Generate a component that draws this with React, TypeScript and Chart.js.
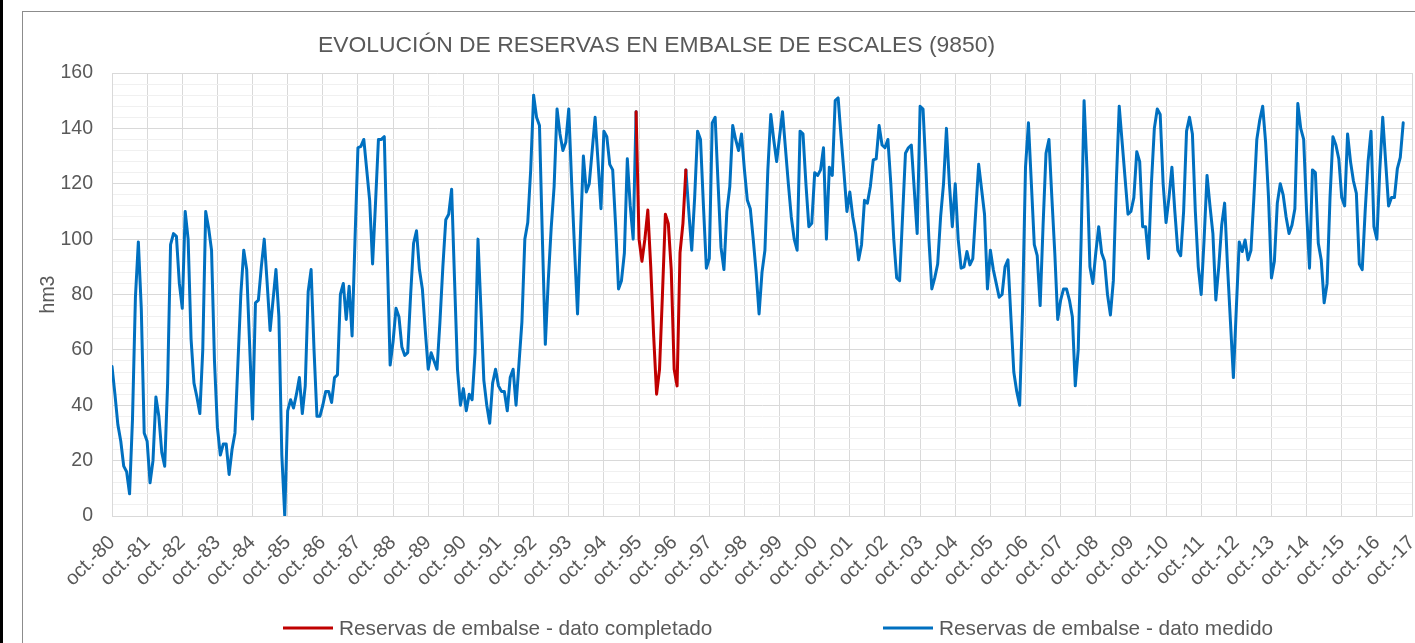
import React, { useEffect, useRef } from "react";
import { Chart, registerables } from "chart.js";

Chart.register(...registerables);

const TITLE = "EVOLUCIÓN DE RESERVAS EN EMBALSE DE ESCALES (9850)";
const Y_TITLE = "hm3";
const LABEL_COMPLETADO = "Reservas de embalse - dato completado";
const LABEL_MEDIDO = "Reservas de embalse - dato medido";

// Tick labels (one per October, every 12 months)
const yearLabels = [
  "oct.-80", "oct.-81", "oct.-82", "oct.-83", "oct.-84", "oct.-85", "oct.-86", "oct.-87",
  "oct.-88", "oct.-89", "oct.-90", "oct.-91", "oct.-92", "oct.-93", "oct.-94", "oct.-95",
  "oct.-96", "oct.-97", "oct.-98", "oct.-99", "oct.-00", "oct.-01", "oct.-02", "oct.-03",
  "oct.-04", "oct.-05", "oct.-06", "oct.-07", "oct.-08", "oct.-09", "oct.-10", "oct.-11",
  "oct.-12", "oct.-13", "oct.-14", "oct.-15", "oct.-16", "oct.-17",
];
const MONTHS_PER_LABEL = 12;
const AXIS_MONTHS = 444; // oct.-80 .. oct.-17

// Monthly reservoir storage (hm3), measured data, from oct.-80 (index 0)
const medido: (number | null)[] = [
  54, 44, 33, 27, 18, 16, 8, 35, 79, 99,
  75, 30, 27, 12, 20, 43, 36, 23, 18, 48,
  98, 102, 101, 84, 75, 110, 100, 64, 48, 43,
  37, 60, 110, 104, 96, 56, 32, 22, 26, 26,
  15, 24, 30, 55, 80, 96, 89, 62, 35, 77,
  78, 90, 100, 84, 67, 78, 89, 72, 22, 0,
  38, 42, 39, 44, 50, 37, 47, 81, 89, 60,
  36, 36, 40, 45, 45, 41, 50, 51, 80, 84,
  71, 83, 65, 100, 133, 133.5, 136, 125, 114, 91,
  113, 136, 136, 137, 95, 54.5, 63, 75, 72, 61,
  58, 59, 80, 98.5, 103, 89, 82, 67, 53, 59,
  56, 53, 70, 90, 107, 109, 118, 85, 53, 40,
  46, 38, 44, 42, 59, 100, 75, 49, 40, 33.5,
  48, 53, 47, 45, 45, 38, 50, 53, 40, 55,
  70, 100, 106, 125, 152, 144, 141, 100, 62, 85,
  104, 119, 147, 138, 132, 135, 147, 120, 96, 73,
  102, 130, 117, 120, 132, 144, 128, 111, 139, 137,
  127, 125, 105, 82, 85, 95, 129, 112, 100, 146,
  null, null, null, null, null, null, null, null, null, null,
  null, null, null, null, null, null, 125, 110, 96, 115,
  139, 136, 112, 89.5, 93, 142, 144, 120, 97, 89,
  110, 119, 141, 136, 132, 138, 125, 114, 111, 100,
  88, 73, 88, 96, 125, 145, 136, 128, 137, 146,
  133, 120, 108, 100, 96, 139, 138, 120, 104.5, 105.7,
  124, 123, 125, 133, 100, 126, 123, 150, 151, 137,
  124, 110, 117, 108, 102, 92.5, 98, 114, 113, 119,
  128.6, 129, 141, 134, 133, 136, 120, 100, 86, 85,
  108, 131, 133, 134, 118, 102, 148, 147, 125, 100,
  82, 86, 91, 108, 120, 140, 120, 104.5, 120, 100,
  89.5, 90, 95.5, 90.7, 93, 110, 127, 118, 109, 82,
  96, 89, 84, 79, 80, 90, 92.5, 72, 52, 45,
  40, 75, 126, 142, 120, 98, 94, 76, 105, 131,
  136, 115, 95, 71, 78, 82, 82, 78, 72, 47,
  60, 100, 150, 125, 90, 84, 95, 104.5, 95, 92,
  80, 72.6, 85, 120, 148, 135, 122, 109, 110, 115,
  131.6, 128, 104.5, 104.5, 93, 120, 140, 147, 145, 120,
  106, 115, 126, 110, 96, 94, 110, 139, 144, 138,
  110, 90, 80, 100, 123, 112, 102, 78, 90, 105,
  113, 90, 70, 50, 75, 99, 95.5, 99.7, 92.5, 96,
  115, 136, 143, 148, 135, 115, 86, 92, 113, 120,
  116, 108, 102, 105, 111, 149, 140, 136, 110, 89.5,
  125, 124, 98.5, 92.5, 77, 84, 115, 137, 134, 129,
  115, 112, 138, 128, 121, 116.5, 91, 89, 110, 128,
  139, 104.5, 100, 125, 144, 128, 112, 115, 115, 125.5,
  129.5, 142,
];

// Completed (filled-in) data, starting at month index 179
const completadoStart = 179;
const completado = [
  146, 100, 92, 100, 110.5, 90, 65, 44, 53, 80,
  109, 105.6, 89, 53, 47, 95, 105.7, 125,
];

const FONT = "'Liberation Sans', Arial, Helvetica, sans-serif";
const TEXT = "#595959";

const framePlugin = {
  id: "excelFrame",
  beforeDraw(chart: any) {
    const ctx = chart.ctx as CanvasRenderingContext2D;
    ctx.save();
    ctx.fillStyle = "#ffffff";
    ctx.fillRect(0, 0, chart.width, chart.height);
    ctx.fillStyle = "#000000";
    ctx.fillRect(0, 0, 3, chart.height);
    ctx.strokeStyle = "#8c8c8c";
    ctx.lineWidth = 1;
    ctx.strokeRect(22.5, 11.5, chart.width + 50, chart.height + 50);
    ctx.restore();
  },
  afterDraw(chart: any) {
    const ctx = chart.ctx as CanvasRenderingContext2D;
    ctx.save();
    ctx.fillStyle = TEXT;
    ctx.font = `22.9px ${FONT}`;
    ctx.textAlign = "center";
    ctx.textBaseline = "alphabetic";
    ctx.fillText(TITLE, 656.5, 52);

    const xs = [283, 883];
    chart.data.datasets.forEach((ds: any, i: number) => {
      const x = xs[i];
      ctx.strokeStyle = ds.borderColor;
      ctx.lineWidth = 3;
      ctx.beginPath();
      ctx.moveTo(x, 628);
      ctx.lineTo(x + 50, 628);
      ctx.stroke();
      ctx.fillStyle = TEXT;
      ctx.font = `20.8px ${FONT}`;
      ctx.textAlign = "left";
      ctx.fillText(ds.label, x + 56, 635);
    });
    ctx.restore();
  },
};

export default function App() {
  const ref = useRef<HTMLCanvasElement>(null);

  useEffect(() => {
    if (!ref.current) return;
    const chart = new Chart(ref.current, {
      type: "line",
      data: {
        datasets: [
          {
            label: LABEL_COMPLETADO,
            data: completado.map((v, i) => ({ x: completadoStart + i, y: v })),
            borderColor: "#C00000",
            backgroundColor: "#C00000",
            borderWidth: 3,
            pointRadius: 0,
            borderJoinStyle: "round",
            borderCapStyle: "round",
            tension: 0,
          },
          {
            label: LABEL_MEDIDO,
            data: medido.map((v, i) => ({ x: i, y: v })),
            borderColor: "#0070C0",
            backgroundColor: "#0070C0",
            borderWidth: 3,
            pointRadius: 0,
            borderJoinStyle: "round",
            borderCapStyle: "round",
            tension: 0,
            spanGaps: false,
          },
        ],
      },
      options: {
        animation: false,
        responsive: false,
        devicePixelRatio: 1,
        layout: { padding: { left: 22, top: 73, right: 3, bottom: 0 } },
        plugins: {
          legend: { display: false },
          title: { display: false },
          tooltip: { enabled: false },
        },
        scales: {
          x: {
            type: "linear",
            min: 0,
            max: AXIS_MONTHS,
            afterFit: (scale: any) => {
              scale.height = 127;
              scale.paddingLeft = 0;
              scale.paddingRight = 0;
            },
            grid: { color: "#d9d9d9", drawTicks: false, lineWidth: 1 },
            border: { color: "#d9d9d9" },
            ticks: {
              stepSize: MONTHS_PER_LABEL,
              autoSkip: false,
              maxRotation: 45,
              minRotation: 45,
              padding: 15,
              color: TEXT,
              font: { family: FONT, size: 20 },
              callback: (v: any) => yearLabels[Math.round(Number(v) / MONTHS_PER_LABEL)] ?? "",
            },
          },
          y: {
            min: 0,
            max: 160,
            afterFit: (scale: any) => {
              scale.width = 90;
              scale.paddingTop = 0;
              scale.paddingBottom = 0;
            },
            grid: {
              drawTicks: false,
              lineWidth: 1,
              color: (c: any) => (c.tick && c.tick.value % 20 === 0 ? "#d9d9d9" : "#f0f0f0"),
            },
            border: { color: "#d9d9d9" },
            title: {
              display: true,
              text: Y_TITLE,
              color: TEXT,
              font: { family: FONT, size: 19.5 },
              padding: { top: 15, bottom: 0 },
            },
            ticks: {
              stepSize: 4,
              autoSkip: false,
              padding: 19,
              color: TEXT,
              font: { family: FONT, size: 19.5 },
              callback: (v: any) => (Number(v) % 20 === 0 ? String(v) : ""),
            },
          },
        },
      },
      plugins: [framePlugin],
    } as any);
    return () => chart.destroy();
  }, []);

  return (
    <div style={{ position: "fixed", left: 0, top: 0, width: 1415, height: 643, background: "#fff" }}>
      <canvas ref={ref} width={1415} height={643} style={{ display: "block", width: 1415, height: 643 }} />
    </div>
  );
}
